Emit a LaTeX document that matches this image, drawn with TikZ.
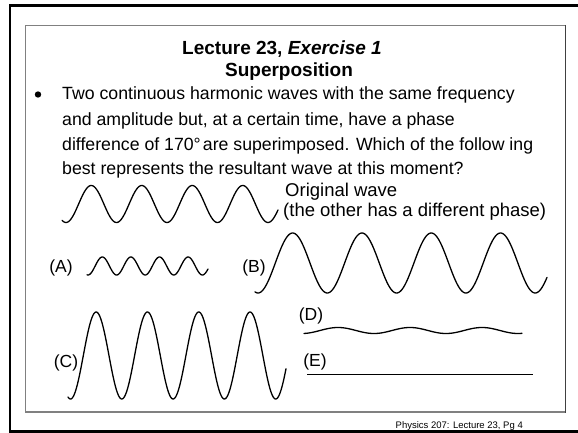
\documentclass[tikz,border=0pt]{standalone}
\usepackage{fontspec}
\setmainfont{Liberation Sans}
\begin{document}
\begin{tikzpicture}[x=1pt,y=-1pt,
  wave/.style={line width=1.3pt, line join=round, line cap=round},
  body/.style={font=\fontsize{17.7}{21}\selectfont, inner sep=0pt, anchor=base west},
  note/.style={font=\fontsize{18.5}{21}\selectfont, inner sep=0pt, anchor=base west},
  ttl/.style={font=\fontsize{19}{22}\selectfont\bfseries, inner sep=0pt, anchor=base},
  lbl/.style={font=\fontsize{17.5}{20}\selectfont, inner sep=0pt},
  foot/.style={font=\fontsize{9.5}{11}\selectfont, inner sep=0pt, anchor=base east},
  innerframe/.style={draw=black!50, line width=1.3pt},
  outerframe/.style={draw=black, line width=2.6pt}]
\useasboundingbox (0,0) rectangle (578,433);
\fill[white] (0,0) rectangle (578,433);
% frames
\draw[outerframe] (590,5.5) -- (10,5.5) -- (10,431.5) -- (590,431.5);
\draw[innerframe] (565.5,25.5) -- (25.5,25.5) -- (25.5,412) -- (565.5,412);
\draw[draw=black!75, line width=1.3pt] (565.5,24.9) -- (565.5,412.6);
% title
\node[ttl] (t1) at (282,55) {Lecture 23, \textit{Exercise 1}};
\node[ttl] (t2) at (289,77) {Superposition};
% bullet and body
\fill (38,94.5) circle (3.2);
\node[body] (l1) at (62,100) {Two continuous harmonic waves with the same frequency};
\node[body] (l2) at (62,125) {and amplitude but, at a certain time, have a phase};
\node[body] (l3) at (62,150) {difference of 170°\hspace{0.12em}are superimposed. Which of the follow ing};
\node[body] (l4) at (62,175) {best represents the resultant wave at this moment?};
% original wave
\draw[wave] plot[domain=62:278, samples=220] (\x, {204+18.5*cos((\x-66)/50.5*360)});
\node[note] (o1) at (285,196) {Original wave};
\node[note] (o2) at (283,216.5) {(the other has a different phase)};
% (A)
\node[lbl] (la) at (61,268) {(A)};
\draw[wave] plot[domain=87:208, samples=200] (\x, {266+9*cos((\x-88)/28.6*360)});
% (B)
\node[lbl] (lb) at (254,268) {(B)};
\draw[wave] plot[domain=255:547, samples=300] (\x, {263+30*cos((\x-258)/69.3*360)});
% (C)
\node[lbl] (lc) at (66,363) {(C)};
\draw[wave] plot[domain=68:286, samples=300] (\x, {355.5+43.5*cos((\x-70.5)/51.3*360)});
% (D)
\node[lbl] (ld) at (311,316) {(D)};
\draw[wave] plot[domain=304:522, samples=200] (\x, {330.5-3*cos((\x-338)/72*360)});
% (E)
\node[lbl] (le) at (315,362) {(E)};
\coordinate (e1) at (307,374.5);
\coordinate (e2) at (533,374.5);
\draw[line width=1.3pt] (e1) -- (e2);
% footer
\node[foot] (ft) at (523,428) {Physics 207: Lecture 23, Pg 4};
\end{tikzpicture}
\end{document}
